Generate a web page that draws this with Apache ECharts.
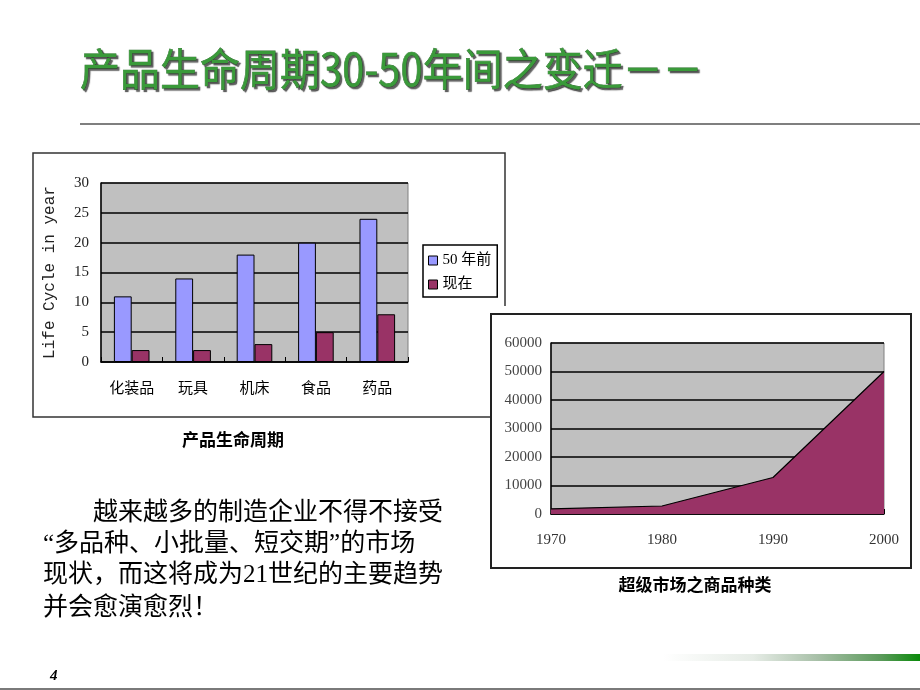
<!DOCTYPE html>
<html>
<head>
<meta charset="utf-8">
<script src="https://cdn.jsdelivr.net/npm/echarts@6/dist/echarts.min.js"></script>
<style>
html,body{margin:0;padding:0;background:#fff;}
#main{width:920px;height:690px;}
</style>
</head>
<body>
<div id="main"></div>
<script>
// ---- data ----
const categories = ['化装品', '玩具', '机床', '食品', '药品'];
const lifeBefore = [11, 14, 18, 20, 24];
const lifeNow = [2, 2, 3, 5, 8];
const seriesNames = ['50 年前', '现在'];
const lifeTicks = { min: 0, max: 30, interval: 5 };
const years = ['1970', '1980', '1990', '2000'];
const skuCounts = [1800, 2800, 12800, 50000];
const skuTicks = { min: 0, max: 60000, interval: 10000 };
const titleText = '产品生命周期30-50年间之变迁－－';
const leftCaption = '产品生命周期';
const rightCaption = '超级市场之商品种类';
const paragraph = ['　　越来越多的制造企业不得不接受', '“多品种、小批量、短交期”的市场', '现状，而这将成为21世纪的主要趋势', '并会愈演愈烈！'];
const pageNo = '4';

const CJK = "'Noto Sans CJK SC'";
const SERIF = "'Liberation Serif','Noto Sans CJK SC'";

const chart = echarts.init(document.getElementById('main'), null, { renderer: 'canvas' });

function paraLine(txt, y, family) {
  return { type: 'text', z: 100, x: 43, y: y,
    style: { text: txt, fontSize: 25, fontFamily: family, fill: '#000', align: 'left', verticalAlign: 'middle', textAlign: 'left', textVerticalAlign: 'middle' } };
}

const option = {
  animation: false,
  backgroundColor: '#ffffff',
  grid: [
    { left: 101, top: 183, width: 307, height: 179, show: true, backgroundColor: '#c0c0c0', borderColor: '#808080', borderWidth: 1 },
    { left: 551, top: 343, width: 333, height: 171, show: true, backgroundColor: '#c0c0c0', borderColor: '#808080', borderWidth: 1 }
  ],
  legend: {
    data: seriesNames,
    orient: 'vertical',
    left: 423, top: 245,
    itemWidth: 9, itemHeight: 9, itemGap: 9,
    padding: [8, 6, 5, 5],
    borderColor: '#000', borderWidth: 1.5,
    backgroundColor: '#fff',
    icon: 'rect',
    itemStyle: { borderColor: '#000', borderWidth: 1 },
    textStyle: { fontSize: 15, fontFamily: SERIF, color: '#000' }
  },
  xAxis: [
    {
      type: 'category', gridIndex: 0, data: categories,
      axisLine: { lineStyle: { color: '#000', width: 1.5 } },
      axisTick: { show: true, inside: true, length: 5, lineStyle: { color: '#000' } },
      axisLabel: { margin: 18, fontSize: 15, fontFamily: CJK, color: '#000' }
    },
    {
      type: 'category', gridIndex: 1, data: years, boundaryGap: false,
      axisLine: { lineStyle: { color: '#000', width: 1.5 } },
      axisTick: { show: true, inside: true, length: 5, lineStyle: { color: '#000' } },
      axisLabel: { margin: 19, fontSize: 15, fontFamily: "'Liberation Serif'", color: '#333' }
    }
  ],
  yAxis: [
    {
      type: 'value', gridIndex: 0, min: lifeTicks.min, max: lifeTicks.max, interval: lifeTicks.interval,
      name: 'Life Cycle in year', nameLocation: 'middle', nameRotate: 90, nameGap: 43,
      nameTextStyle: { fontFamily: "'Liberation Mono'", fontSize: 16, color: '#222' },
      axisLine: { show: true, lineStyle: { color: '#000', width: 1.5 } },
      axisTick: { show: false },
      splitLine: { show: true, lineStyle: { color: '#000', width: 1.5 } },
      axisLabel: { margin: 12, fontSize: 15, fontFamily: "'Liberation Serif'", color: '#222' }
    },
    {
      type: 'value', gridIndex: 1, min: skuTicks.min, max: skuTicks.max, interval: skuTicks.interval,
      axisLine: { show: true, lineStyle: { color: '#000', width: 1.5 } },
      axisTick: { show: false },
      splitLine: { show: true, lineStyle: { color: '#000', width: 1.5 } },
      axisLabel: { margin: 9, fontSize: 15, fontFamily: "'Liberation Serif'", color: '#444',
        formatter: function (v) { return String(v); } }
    }
  ],
  series: [
    {
      name: seriesNames[0], type: 'bar', xAxisIndex: 0, yAxisIndex: 0, data: lifeBefore,
      barWidth: '29%', barGap: '0%',
      itemStyle: { color: '#9999ff', borderColor: '#000', borderWidth: 1 }
    },
    {
      name: seriesNames[1], type: 'bar', xAxisIndex: 0, yAxisIndex: 0, data: lifeNow,
      barWidth: '29%', barGap: '0%',
      itemStyle: { color: '#993366', borderColor: '#000', borderWidth: 1 }
    },
    {
      name: rightCaption, type: 'line', xAxisIndex: 1, yAxisIndex: 1, data: skuCounts,
      symbol: 'none', lineStyle: { color: '#000', width: 1.2 },
      areaStyle: { color: '#993366', opacity: 1 }
    }
  ],
  graphic: [
    // left chart frame (right edge hidden below legend)
    { type: 'polyline', z: -10, shape: { points: [[505, 306], [505, 153], [33, 153], [33, 417], [491, 417]] },
      style: { stroke: '#333', lineWidth: 1.5, fill: null } },
    // right chart frame
    { type: 'rect', z: -9, shape: { x: 491, y: 314, width: 420, height: 254 },
      style: { fill: '#fff', stroke: '#222', lineWidth: 2 } },
    // title
    { type: 'text', z: 100, x: 80, y: 78, scaleY: 1.12, originX: 80, originY: 78,
      style: { text: titleText, fontSize: 40, fontFamily: CJK, fill: '#3a9a3a', stroke: '#2a6a2a', lineWidth: 0.6,
        align: 'left', verticalAlign: 'middle', textAlign: 'left', textVerticalAlign: 'middle',
        shadowColor: 'rgba(40,40,40,0.75)', shadowOffsetX: 2, shadowOffsetY: 2, shadowBlur: 1,
        textShadowColor: 'rgba(40,40,40,0.75)', textShadowOffsetX: 2, textShadowOffsetY: 2, textShadowBlur: 1 } },
    // divider
    { type: 'line', z: 100, shape: { x1: 80, y1: 124, x2: 920, y2: 124 }, style: { stroke: '#555', lineWidth: 1.5 } },
    // captions
    { type: 'text', z: 100, x: 233, y: 440,
      style: { text: leftCaption, fontSize: 17, fontWeight: 'bold', fontFamily: CJK, fill: '#000',
        align: 'center', verticalAlign: 'middle', textAlign: 'center', textVerticalAlign: 'middle' } },
    { type: 'text', z: 100, x: 695, y: 585,
      style: { text: rightCaption, fontSize: 17, fontWeight: 'bold', fontFamily: CJK, fill: '#000',
        align: 'center', verticalAlign: 'middle', textAlign: 'center', textVerticalAlign: 'middle' } },
    // paragraph
    paraLine(paragraph[0], 513, SERIF),
    paraLine(paragraph[1], 544, SERIF),
    paraLine(paragraph[2], 575, SERIF),
    paraLine(paragraph[3], 605, CJK),
    // footer
    { type: 'rect', z: 100, shape: { x: 663, y: 654, width: 257, height: 7 },
      style: { fill: new echarts.graphic.LinearGradient(0, 0, 1, 0, [
        { offset: 0, color: '#ffffff' }, { offset: 0.35, color: '#e6ece6' }, { offset: 0.6, color: '#a8c0a8' },
        { offset: 0.85, color: '#5a9a5a' }, { offset: 1, color: '#0a8a0a' }]) } },
    { type: 'line', z: 100, shape: { x1: 0, y1: 689, x2: 920, y2: 689 }, style: { stroke: '#7a7a7a', lineWidth: 2 } },
    { type: 'text', z: 100, x: 50, y: 676,
      style: { text: pageNo, fontSize: 15, fontStyle: 'italic', fontWeight: 'bold', fontFamily: "'Liberation Serif'", fill: '#000',
        align: 'left', verticalAlign: 'middle', textAlign: 'left', textVerticalAlign: 'middle' } }
  ]
};
chart.setOption(option);
</script>
</body>
</html>
